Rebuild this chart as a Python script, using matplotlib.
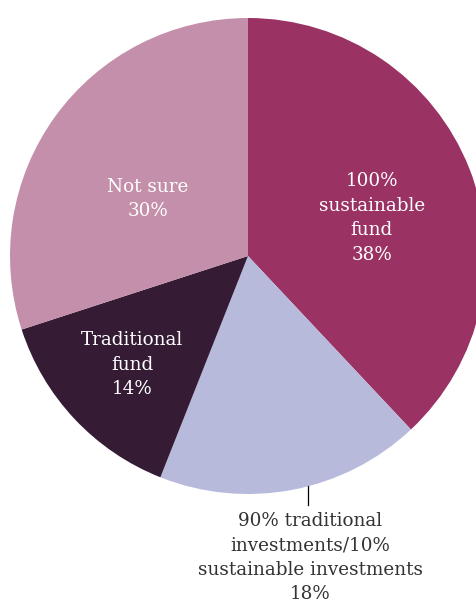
import numpy as np
import matplotlib.pyplot as plt

# survey shares, clockwise from 12 o'clock
labels = ['100%\nsustainable\nfund', '90% traditional\ninvestments/10%\nsustainable investments',
          'Traditional\nfund', 'Not sure']
shares = [38, 18, 14, 30]
colors = ['#9A3363', '#B8BADC', '#351C34', '#C48FAA']

plt.rcParams['font.family'] = ['DejaVu Serif']

fig = plt.figure(figsize=(4.77, 6.06), dpi=100)
# place the pie so its centre/radius match the reference (it runs off the right edge)
ax = fig.add_axes([10 / 477, (606 - 494) / 606, 476 / 477, 476 / 606])
wedges, _ = ax.pie(shares, colors=colors, startangle=90, counterclock=False,
                   radius=1.0, wedgeprops=dict(linewidth=0))
ax.set_xlim(-1, 1)
ax.set_ylim(-1, 1)
ax.set_aspect('equal')
ax.axis('off')

# inside labels: (distance along mid-angle, vertical nudge)
inside = {0: (0.56, -0.046), 2: (0.668, 0.0), 3: (0.52, -0.065)}
fs = 13.2
ls = 1.46
for i, w in enumerate(wedges):
    mid = np.deg2rad((w.theta1 + w.theta2) / 2)
    txt = f'{labels[i]}\n{shares[i]}%'
    if i in inside:
        r, dy = inside[i]
        ax.text(r * np.cos(mid), r * np.sin(mid) + dy, txt, ha='center', va='center',
                color='white', fontsize=fs, linespacing=ls)
    else:
        # outside label with a short leader line
        lx = 0.252
        ly = -np.sqrt(1 - lx ** 2)
        ax.plot([lx, lx], [ly, -1.045], color='black', lw=0.9, clip_on=False)
        ax.text(lx + 0.01, -1.075, txt, ha='center', va='top', color='#333333',
                fontsize=fs, linespacing=ls, clip_on=False)

fig.savefig('out.png', dpi=100)
